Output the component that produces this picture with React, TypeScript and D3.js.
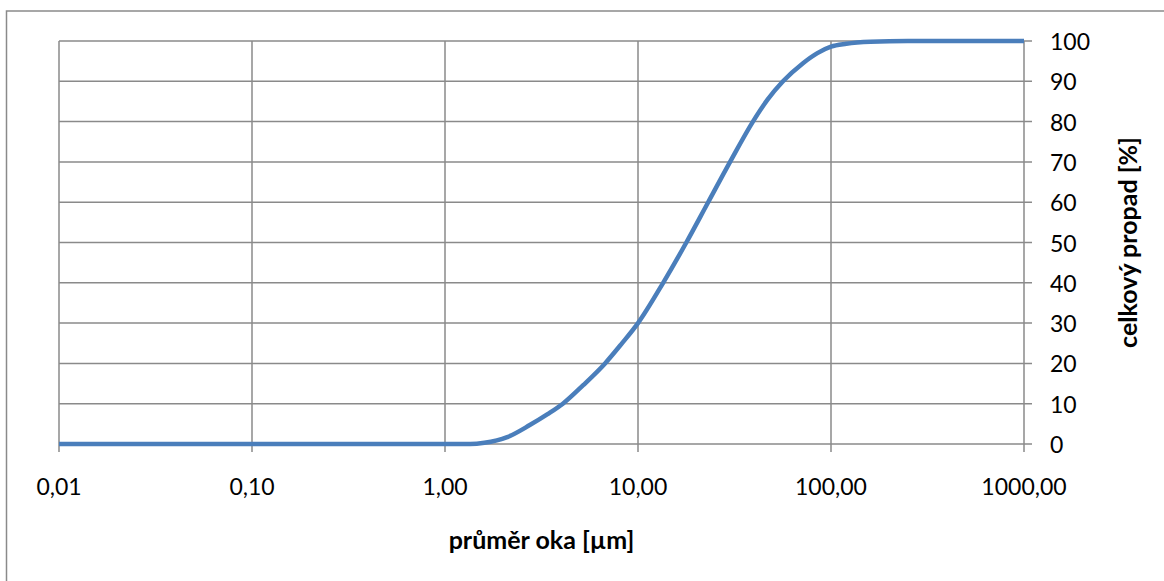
import React from "react";
import * as d3 from "d3";

const sizes = [0.01, 0.1, 1, 1.35, 1.6, 2.1, 2.75, 3.4, 4.08, 5.2, 6.75, 8.2, 10, 13.5, 17.8, 23.1, 30, 39.4, 47, 56.4, 71.6, 85, 100, 120, 160, 250, 1000];
const passing = [0, 0, 0, 0, 0.3, 1.7, 4.7, 7.4, 10, 14.6, 20, 24.8, 30, 40, 50, 60, 70, 80, 85.5, 90, 94.5, 97, 98.6, 99.3, 99.8, 100, 100];
const xTicks = [0.01, 0.1, 1, 10, 100, 1000];
const yTicks = [0, 10, 20, 30, 40, 50, 60, 70, 80, 90, 100];
const xTitle = "průměr oka [µm]";
const yTitle = "celkový propad [%]";

const W = 1164;
const H = 581;
const left = 59;
const right = 1024;
const top = 41;
const bottom = 444;

export default function App() {
  const x = d3.scaleLog().domain([0.01, 1000]).range([left, right]);
  const y = d3.scaleLinear().domain([0, 100]).range([bottom, top]);
  const data = sizes.map((s, i) => [s, passing[i]] as [number, number]);
  const line = d3
    .line<[number, number]>()
    .x((d) => x(d[0]))
    .y((d) => y(d[1]))
    .curve(d3.curveMonotoneX);
  const fmt = (v: number) => v.toFixed(2).replace(".", ",");
  const grid = "#8a8a8a";
  const font = "Lato, 'Open Sans', sans-serif";

  return (
    <svg
      width={W}
      height={H}
      style={{ position: "absolute", left: 0, top: 0, background: "#fff" }}
    >
      <rect x={6.5} y={11} width={1200} height={600} fill="#fff" stroke={grid} strokeWidth={1.5} />
      {yTicks.map((t) => (
        <line key={"h" + t} x1={left} x2={right + 8} y1={y(t)} y2={y(t)} stroke={grid} strokeWidth={1.5} />
      ))}
      {xTicks.map((t) => (
        <line key={"v" + t} x1={x(t)} x2={x(t)} y1={top} y2={bottom + 8} stroke={grid} strokeWidth={1.5} />
      ))}
      <path d={line(data) || ""} fill="none" stroke="#4A7EBB" strokeWidth={4.5} strokeLinejoin="round" />
      {xTicks.map((t) => (
        <text
          key={"xl" + t}
          x={x(t)}
          y={495}
          textAnchor="middle"
          fontFamily={font}
          fontSize={23}
          fill="#000"
        >
          {fmt(t)}
        </text>
      ))}
      {yTicks.map((t) => (
        <text
          key={"yl" + t}
          x={1050}
          y={y(t)}
          dominantBaseline="central"
          fontFamily={font}
          fontSize={23}
          fill="#000"
        >
          {t}
        </text>
      ))}
      <text
        x={(left + right) / 2}
        y={549}
        textAnchor="middle"
        fontFamily={font}
        fontSize={25}
        fontWeight="bold"
        fill="#000"
      >
        {xTitle}
      </text>
      <text
        transform={`translate(1137, ${(top + bottom) / 2}) rotate(-90)`}
        textAnchor="middle"
        fontFamily={font}
        fontSize={25}
        fontWeight="bold"
        fill="#000"
      >
        {yTitle}
      </text>
    </svg>
  );
}
